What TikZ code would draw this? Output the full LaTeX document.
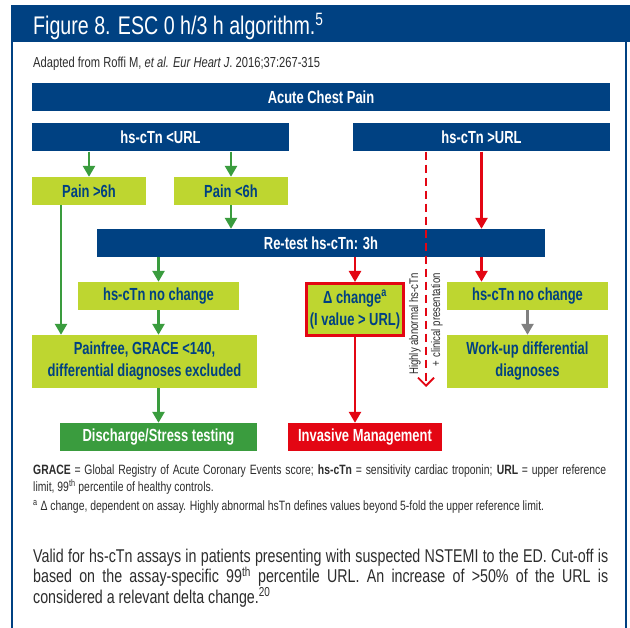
\documentclass[tikz,border=0pt]{standalone}
\usepackage{fontspec}
\setmainfont{Liberation Sans}[FakeStretch=0.77]
\newfontfamily\boxfont{Liberation Sans}[FakeStretch=0.74]
\usetikzlibrary{arrows.meta}
\definecolor{escblue}{RGB}{0,65,130}
\definecolor{esclime}{RGB}{190,214,48}
\definecolor{escgreen}{RGB}{58,156,62}
\definecolor{escred}{RGB}{227,6,19}
\definecolor{escgray}{RGB}{128,128,128}
\definecolor{esctext}{RGB}{45,45,45}

\begin{document}
\begin{tikzpicture}[x=1pt,y=-1pt]
\tikzstyle{every node}+=[inner sep=0pt]
\tikzstyle{bluebox}=[fill=escblue,text=white,minimum height=28pt,font=\boxfont\bfseries\fontsize{17.5}{22}\selectfont]
\tikzstyle{limebox}=[bluebox,fill=esclime,text=escblue,align=center]
\tikzstyle{garrow}=[draw=escgreen,line width=2.5pt,-{Triangle[width=12pt,length=11pt]}]
\tikzstyle{rarrow}=[garrow,draw=escred]
\tikzstyle{grarrow}=[garrow,draw=escgray]
\useasboundingbox (0,0) rectangle (630,628);
\fill [white] (0,0) rectangle (630,628);
% frame and title
\fill [escblue] (11,5) rectangle (630,42);
\draw [escblue,line width=2.5pt] (12,42) -- (12,628);
\draw [escblue,line width=2.5pt] (626,42) -- (626,628);
\node [anchor=base west,text=white,font=\fontsize{25.5}{30}\selectfont] (title) at (33,35) {Figure 8. ESC 0 h/3 h algorithm.\textsuperscript{5}};
\node [anchor=base west,text=esctext,font=\fontsize{14.5}{17}\selectfont] (source) at (33,68) {Adapted from Roffi M, \textit{et al. Eur Heart J}. 2016;37:267-315};
% boxes
\node [bluebox,minimum width=578pt] (acp) at (321,97) {Acute Chest Pain};
\node [bluebox,minimum width=257pt] (lo) at (160.5,137.5) {hs-cTn <URL};
\node [bluebox,minimum width=257pt] (hi) at (481.5,137.5) {hs-cTn >URL};
\node [limebox,minimum width=114pt] (pgt) at (89,191) {Pain >6h};
\node [limebox,minimum width=114pt] (plt) at (231,191) {Pain <6h};
\node [bluebox,minimum width=448pt] (rt) at (321,243) {Re-test hs-cTn: 3h};
\node [limebox,minimum width=161pt] (ncl) at (158.5,296) {hs-cTn no change};
\node [limebox,minimum width=97pt,minimum height=52pt,draw=escred,line width=3pt] (dc) at (355,309.5) {Δ change\textsuperscript{a}\\(I value > URL)};
\node [limebox,minimum width=161pt] (ncr) at (527.5,296) {hs-cTn no change};
\node [limebox,minimum width=225pt,minimum height=53pt] (pf) at (144.5,361.5) {Painfree, GRACE <140,\\differential diagnoses excluded};
\node [limebox,minimum width=161pt,minimum height=53pt] (wu) at (527.5,361.5) {Work-up differential\\diagnoses};
\node [bluebox,fill=escgreen,minimum width=197pt] (ds) at (158.5,437) {Discharge/Stress testing};
\node [bluebox,fill=escred,minimum width=154pt] (im) at (365,437) {Invasive Management};
% connectors
\draw [garrow] (lo.south -| pgt) -- (pgt.north);
\draw [garrow] (lo.south -| plt) -- (plt.north);
\draw [garrow] (plt.south) -- (plt.south |- rt.north);
\draw [garrow] ([xshift=-28pt]pgt.south) -- ([xshift=-28pt]pgt.south |- pf.north);
\draw [garrow] (rt.south -| ncl) -- (ncl.north);
\draw [garrow] (ncl.south) -- (ncl.south |- pf.north);
\draw [garrow] (pf.south -| ds) -- (ds.north);
\draw [rarrow] (hi.south) -- (hi.south |- rt.north);
\draw [rarrow] (rt.south -| dc) -- (dc.north);
\draw [rarrow] (dc.south) -- (dc.south |- im.north);
\draw [rarrow] (rt.south -| hi) -- (ncr.north -| hi);
\draw [grarrow] (ncr.south) -- (wu.north);
\coordinate (dend) at (426,387);
\draw [escred,line width=1.8pt,dash pattern=on 8pt off 5pt,-{Straight Barb[width=16pt,length=8pt,line width=1.8pt]}] (hi.south -| dend) -- (dend);
\node [anchor=east,rotate=90,text=esctext,font=\fontsize{12.5}{14}\selectfont] (hl1) at (415,273) {Highly abnormal hs-cTn};
\node [anchor=east,rotate=90,text=esctext,font=\fontsize{12.5}{14}\selectfont] (hl2) at (437,273) {+ clinical presentation};
% notes
\node [anchor=base west,text width=573pt,align=justify,text=esctext,font=\fontsize{13.5}{17}\selectfont] (abbr) at (33,475) {\textbf{GRACE} = Global Registry of Acute Coronary Events score; \textbf{hs-cTn} = sensitivity cardiac troponin; \textbf{URL} = upper reference\linebreak limit, 99\textsuperscript{th} percentile of healthy controls.\par\vspace{2pt}\textsuperscript{a} Δ change, dependent on assay. Highly abnormal hsTn defines values beyond 5-fold the upper reference limit.};
\node [anchor=base west,text width=575pt,align=justify,text=esctext,font=\fontsize{18.5}{20.5}\selectfont] (valid) at (33,562) {Valid for hs-cTn assays in patients presenting with suspected NSTEMI to the ED. Cut-off is\linebreak based on the assay-specific 99\textsuperscript{th} percentile URL. An increase of >50\% of the URL is\linebreak considered a relevant delta change.\textsuperscript{20}};
\end{tikzpicture}
\end{document}
